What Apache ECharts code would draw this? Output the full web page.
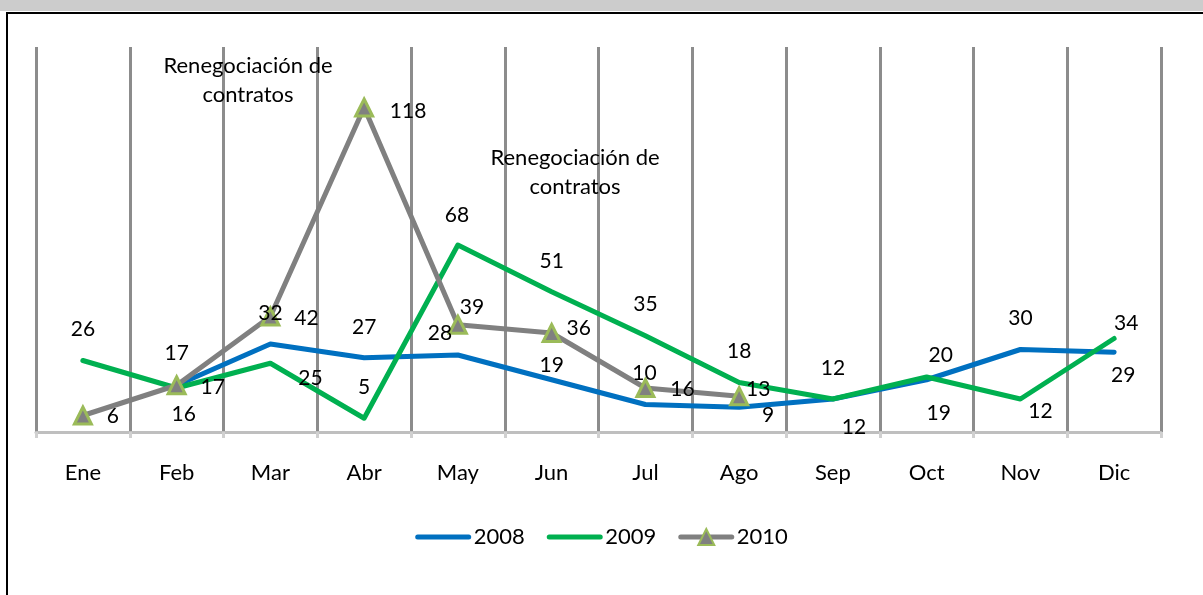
<!DOCTYPE html>
<html>
<head>
<meta charset="utf-8">
<script src="https://cdn.jsdelivr.net/npm/echarts@6/dist/echarts.min.js"></script>
<style>
  html, body { margin: 0; padding: 0; background: #fff; }
  #chart { width: 1203px; height: 595px; }
</style>
</head>
<body>
<div id="chart"></div>
<script>
// datos
const months = ['Ene', 'Feb', 'Mar', 'Abr', 'May', 'Jun', 'Jul', 'Ago', 'Sep', 'Oct', 'Nov', 'Dic']
const s2008 = [null, 17, 32, 27, 28, 19, 10, 9, 12, 19, 30, 29]
const s2009 = [26, 16, 25, 5, 68, 51, 35, 18, 12, 20, 12, 34]
const s2010 = [6, 17, 42, 118, 39, 36, 16, 13, null, null, null, null]
const noteText = 'Renegociación de\ncontratos'

// posicion de las etiquetas (desplazamiento respecto al punto)
const off2008 = [null, [0, -32], [0, -31], [0, -31], [-18, -22], [0, -15], [-1, -31], [29, 8], [21, 28], [12, 33], [0, -31], [9, 23]]
const off2009 = [[0, -31], [7, 26], [40, 15], [0, -31], [-1, -30], [0, -31], [0, -32], [0, -31], [0, -31], [14, -22], [20, 12], [12, -15]]
const off2010 = [[30, 1], [36, 2], [36, 2], [44, 4], [14, -18], [27, -5], [37, 1], [19, -7], null, null, null, null]

const FONT = 'Lato'

const withLabels = (values, offsets) => values.map((v, i) => ({
    value: v,
    label: { offset: offsets[i] || [0, 0] }
}))

const labelBase = {
    show: true,
    position: 'inside',
    color: '#000',
    fontFamily: FONT,
    fontSize: 21
}

const chart = echarts.init(document.getElementById('chart'))

const option = {
    animation: false,
    textStyle: { fontFamily: FONT },
    grid: { left: 36, right: 42, top: 47, bottom: 163 },
    xAxis: {
        type: 'category',
        data: months,
        boundaryGap: true,
        axisLine: { lineStyle: { color: '#bfbfbf', width: 3 } },
        axisTick: { show: true, length: 6, lineStyle: { color: '#d0d0d0', width: 3 } },
        axisLabel: { color: '#000', fontSize: 22, fontFamily: FONT, margin: 30 },
        splitLine: { show: true, lineStyle: { color: '#8c8c8c', width: 3 } }
    },
    yAxis: {
        type: 'value',
        show: false,
        min: 0,
        max: 140,
        splitLine: { show: false }
    },
    legend: {
        bottom: 42,
        left: 'center',
        itemWidth: 51,
        itemHeight: 20,
        itemGap: 22,
        lineStyle: { width: 5, cap: 'round' },
        textStyle: { color: '#000', fontSize: 22, fontFamily: FONT },
        data: [
            { name: '2008', itemStyle: { opacity: 0 } },
            { name: '2009', itemStyle: { opacity: 0 } },
            { name: '2010' }
        ]
    },
    series: [
        {
            name: '2008',
            type: 'line',
            data: withLabels(s2008, off2008),
            symbol: 'circle',
            symbolSize: 0,
            lineStyle: { color: '#0070c0', width: 5, cap: 'round', join: 'round' },
            itemStyle: { color: '#0070c0' },
            label: labelBase
        },
        {
            name: '2009',
            type: 'line',
            data: withLabels(s2009, off2009),
            symbol: 'circle',
            symbolSize: 0,
            lineStyle: { color: '#00b050', width: 5, cap: 'round', join: 'round' },
            itemStyle: { color: '#00b050' },
            label: labelBase
        },
        {
            name: '2010',
            type: 'line',
            data: withLabels(s2010, off2010),
            symbol: 'triangle',
            symbolSize: 17,
            lineStyle: { color: '#808080', width: 5, cap: 'round', join: 'round' },
            itemStyle: { color: '#808080', borderColor: '#9bbb59', borderWidth: 3 },
            label: labelBase
        }
    ],
    graphic: [
        { type: 'rect', shape: { x: 0, y: 0, width: 1203, height: 11 }, style: { fill: '#cccccc' }, silent: true },
        { type: 'rect', shape: { x: 6, y: 12, width: 1197, height: 2 }, style: { fill: '#000' }, silent: true },
        { type: 'rect', shape: { x: 6, y: 12, width: 2, height: 583 }, style: { fill: '#000' }, silent: true },
        {
            type: 'text', x: 248, y: 51, z: 100,
            style: { text: noteText, fill: '#000', font: '22px ' + FONT, textAlign: 'center', lineHeight: 29 }
        },
        {
            type: 'text', x: 575, y: 143, z: 100,
            style: { text: noteText, fill: '#000', font: '22px ' + FONT, textAlign: 'center', lineHeight: 29 }
        }
    ]
}

chart.setOption(option)
</script>
</body>
</html>
